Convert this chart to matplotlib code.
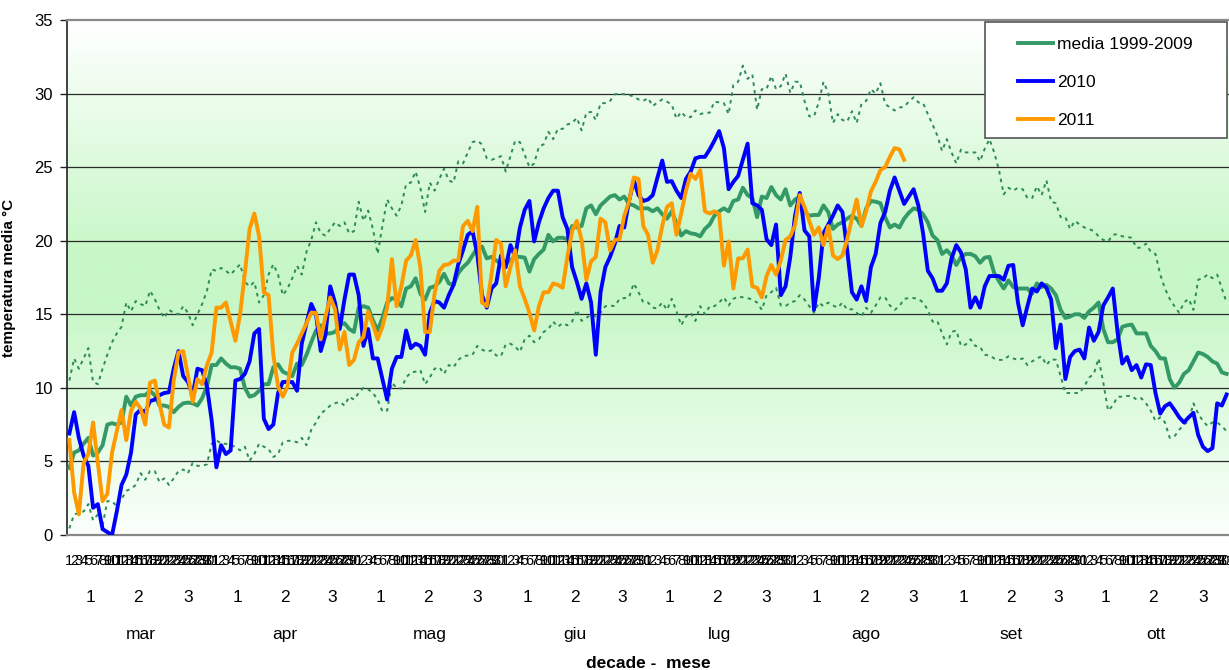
import numpy as np
import matplotlib
matplotlib.use("Agg")
import matplotlib.pyplot as plt
from matplotlib.colors import LinearSegmentedColormap
from matplotlib.patches import Rectangle

plt.rcParams['font.family'] = ['Liberation Sans', 'DejaVu Sans']

# months shown on the axis and their number of days
months = ['mar', 'apr', 'mag', 'giu', 'lug', 'ago', 'set', 'ott']
month_days = [31, 30, 31, 30, 31, 31, 30, 31]

# daily mean temperature 1999-2009
media = [4.55, 5.6, 5.75, 6.2, 6.6, 5.4, 5.6, 6.1, 7.5, 7.6, 7.5, 7.65, 9.4, 8.8, 9.4, 9.5, 9.5, 9.8, 9.5, 8.8,
         8.8, 8.7, 8.35, 8.7, 8.95, 9.0, 8.95, 8.8, 9.3, 10.1, 11.55, 11.55, 12.0, 11.65, 11.4, 11.4, 11.3, 10.0, 9.4, 9.5,
         9.8, 10.25, 10.25, 11.4, 11.6, 11.1, 10.95, 10.8, 11.65, 11.55, 12.25, 13.1, 13.9, 14.25, 13.7, 13.7, 13.8, 14.25, 14.4, 14.0,
         13.8, 15.45, 15.55, 15.45, 14.6, 13.9, 14.75, 15.8, 16.1, 16.0, 15.55, 16.75, 16.9, 17.45, 16.4, 16.0, 16.8, 16.9, 17.2, 17.75,
         17.1, 17.0, 17.8, 18.2, 18.5, 19.0, 19.5, 19.6, 18.8, 18.9, 18.65, 18.45, 18.4, 18.7, 18.9, 18.9, 18.85, 17.9, 18.75, 19.1,
         19.4, 20.4, 19.95, 20.2, 20.2, 20.1, 21.0, 20.9, 21.0, 22.2, 22.4, 21.8, 22.4, 22.7, 23.0, 23.1, 22.8, 23.0, 22.5, 22.4,
         22.2, 22.2, 22.2, 22.0, 22.2, 21.8, 21.5, 22.0, 21.2, 20.35, 20.65, 20.5, 20.45, 20.3, 20.8, 21.1, 21.7, 22.0, 22.2, 22.0,
         22.7, 22.8, 23.6, 23.1, 22.9, 21.6, 23.0, 22.9, 23.65, 23.1, 22.8, 23.5, 22.4, 22.8, 23.0, 21.95, 21.7, 21.75, 21.75, 22.4,
         21.95, 20.8, 21.1, 21.25, 21.5, 21.7, 21.5, 21.0, 22.2, 22.7, 22.65, 22.55, 21.6, 20.9, 21.1, 20.9, 21.5, 21.9, 22.2, 22.1,
         21.8, 21.25, 20.35, 20.05, 19.1, 19.35, 19.0, 18.35, 18.9, 19.1, 19.1, 18.95, 18.5, 18.85, 18.9, 17.8, 17.25, 16.75, 17.3, 16.85,
         16.75, 16.75, 16.75, 16.4, 17.1, 16.85, 17.0, 16.75, 16.3, 15.3, 14.75, 14.85, 15.0, 15.0, 14.75, 15.2, 15.45, 15.8, 14.0, 13.1,
         13.1, 13.3, 14.15, 14.25, 14.3, 13.7, 13.7, 13.7, 12.85, 12.5, 12.0, 12.0, 10.6, 10.0, 10.35, 10.95, 11.2, 11.8, 12.4, 12.3,
         12.1, 11.8, 11.65, 11.05, 10.95]

# daily mean temperature 2010
t2010 = [6.9, 8.35, 6.6, 5.4, 4.7, 1.85, 2.1, 0.4, 0.2, 0.0, 1.6, 3.4, 4.1, 5.6, 8.2, 8.5, 8.35, 9.1, 9.2, 9.5,
         9.65, 9.7, 11.3, 12.5, 10.8, 10.4, 9.5, 11.3, 11.2, 10.1, 7.8, 4.6, 6.1, 5.5, 5.75, 10.5, 10.6, 10.95, 11.8, 13.7,
         14.0, 7.9, 7.2, 7.5, 9.65, 10.4, 10.4, 10.4, 9.8, 13.0, 14.4, 15.7, 15.0, 12.5, 13.6, 16.9, 15.8, 14.0, 16.0, 17.7,
         17.7, 16.3, 12.85, 14.0, 12.0, 12.0, 10.6, 9.2, 11.3, 12.1, 12.1, 13.9, 12.7, 13.0, 12.85, 12.25, 15.1, 15.9, 15.8, 15.45,
         16.3, 17.0, 18.4, 19.35, 20.4, 20.65, 19.1, 16.3, 15.45, 16.75, 17.1, 19.0, 18.2, 19.7, 18.9, 20.9, 22.1, 22.7, 19.95, 21.25,
         22.2, 22.9, 23.4, 23.4, 21.6, 20.8, 18.2, 17.2, 16.05, 17.1, 15.8, 12.25, 16.5, 18.2, 18.9, 19.8, 21.0, 20.9, 22.7, 24.1,
         23.1, 22.7, 22.8, 23.1, 24.3, 25.45, 24.0, 24.05, 23.4, 22.9, 24.2, 24.7, 25.6, 25.7, 25.7, 26.2, 26.8, 27.45, 26.3, 23.5,
         24.0, 24.4, 25.5, 26.6, 22.55, 22.4, 22.1, 20.1, 19.7, 21.1, 16.3, 16.9, 18.9, 21.7, 23.25, 20.7, 20.3, 15.3, 17.45, 20.5,
         21.1, 21.7, 22.4, 21.95, 19.35, 16.5, 16.0, 16.9, 15.9, 18.2, 19.1, 21.2, 21.95, 23.4, 24.3, 23.4, 22.5, 23.0, 23.5, 22.4,
         20.5, 17.96, 17.45, 16.6, 16.6, 17.1, 18.8, 19.7, 19.2, 18.05, 15.45, 16.15, 15.45, 16.9, 17.6, 17.6, 17.6, 17.35, 18.3, 18.35,
         15.8, 14.25, 15.55, 16.75, 16.55, 17.1, 16.8, 16.0, 12.7, 14.3, 10.6, 12.1, 12.5, 12.6, 12.0, 14.1, 13.2, 13.8, 15.6, 16.15,
         16.75, 13.8, 11.65, 12.1, 11.2, 11.55, 10.7, 11.6, 11.55, 9.65, 8.25, 8.75, 8.95, 8.5, 8.0, 7.65, 8.0, 8.3, 6.8, 6.0,
         5.7, 5.9, 8.95, 8.8, 9.55]

# daily mean temperature 2011 (until late August)
t2011 = [6.45, 2.9, 1.4, 4.9, 5.5, 7.65, 4.9, 2.3, 2.8, 5.6, 7.05, 8.5, 6.45, 8.45, 9.05, 8.6, 7.5, 10.35, 10.5, 8.95,
         7.5, 7.3, 10.5, 12.4, 12.5, 10.85, 9.05, 10.6, 10.25, 11.55, 12.4, 15.45, 15.45, 15.8, 14.5, 13.2, 15.0, 17.8, 20.8, 21.85,
         20.3, 16.5, 16.3, 12.25, 10.1, 9.4, 10.1, 12.4, 13.0, 13.7, 14.4, 15.1, 15.1, 13.3, 14.85, 16.15, 15.35, 12.6, 13.8, 11.55,
         11.9, 13.1, 13.45, 15.2, 14.3, 13.3, 14.15, 15.45, 18.75, 15.55, 16.9, 18.65, 19.0, 20.05, 18.2, 13.8, 13.8, 16.4, 17.95, 18.35,
         18.4, 18.65, 18.65, 21.0, 21.35, 20.65, 22.3, 15.8, 15.55, 17.7, 20.05, 19.8, 16.9, 18.2, 19.35, 16.9, 16.05, 15.1, 13.9, 15.55,
         16.5, 16.5, 17.1, 17.0, 16.8, 18.9, 20.65, 21.35, 20.05, 17.35, 18.6, 18.9, 21.5, 21.25, 19.35, 20.05, 20.1, 21.7, 22.65, 24.3,
         24.2, 21.0, 20.4, 18.5, 19.35, 21.0, 22.3, 22.55, 20.4, 21.85, 23.4, 24.55, 24.2, 24.8, 22.0, 21.85, 22.0, 21.8, 18.3, 19.95,
         16.75, 18.8, 18.8, 19.4, 16.9, 16.8, 16.15, 17.6, 18.35, 17.7, 18.65, 20.05, 20.3, 21.05, 23.1, 22.3, 21.35, 20.4, 20.9, 19.7,
         21.0, 19.0, 18.75, 19.0, 20.1, 21.5, 22.8, 21.0, 22.0, 23.35, 24.0, 24.8, 25.0, 25.7, 26.3, 26.2, 25.5]

# daily maximum of the 1999-2009 means (upper dotted line)
upper = [10.5, 12.0, 11.3, 12.0, 12.7, 10.4, 10.25, 11.3, 12.25, 13.1, 13.7, 14.15, 15.8, 15.2, 15.9, 15.7, 15.55, 16.6, 16.05, 15.3,
         14.75, 15.3, 15.1, 15.0, 15.55, 15.1, 14.25, 15.0, 15.7, 16.6, 18.05, 17.95, 18.15, 17.95, 17.7, 18.05, 18.4, 17.2, 16.9, 17.2,
         15.8, 16.3, 17.7, 18.4, 17.7, 16.3, 16.75, 17.45, 18.3, 17.7, 19.25, 20.05, 21.25, 20.5, 20.35, 20.8, 21.25, 21.0, 21.25, 20.5,
         20.65, 22.65, 21.35, 22.05, 20.8, 19.1, 21.0, 22.8, 22.2, 21.7, 22.4, 23.85, 23.95, 24.7, 23.6, 21.95, 23.95, 23.4, 24.2, 24.9,
         24.1, 23.95, 25.4, 25.25, 26.0, 26.7, 26.8, 26.55, 25.6, 25.5, 25.6, 25.75, 24.7, 25.75, 26.8, 26.7, 25.85, 25.0, 25.25, 26.4,
         26.55, 27.4, 26.9, 27.6, 27.6, 27.9, 28.0, 28.35, 27.5, 28.7, 28.75, 28.2, 29.35, 29.35, 29.5, 29.95, 30.0, 29.95, 29.9, 29.8,
         29.6, 29.5, 29.7, 29.15, 29.4, 29.6, 29.45, 29.25, 28.3, 28.75, 28.4, 28.4, 28.85, 28.6, 28.7, 28.7, 29.45, 29.4, 29.35, 28.6,
         30.6, 30.8, 31.9, 31.0, 31.3, 28.9, 30.3, 30.3, 31.2, 30.3, 30.5, 31.35, 30.05, 30.8, 30.8, 29.5, 28.45, 28.45, 29.4, 30.8,
         30.05, 28.0, 28.6, 28.2, 28.1, 28.8, 28.0, 29.3, 29.5, 30.3, 30.0, 30.7, 29.3, 29.05, 28.85, 29.05, 29.1, 29.45, 29.75, 29.4,
         29.35, 28.6, 27.9, 27.15, 26.1, 26.9, 26.0, 25.25, 26.2, 26.0, 26.0, 26.0, 25.4, 26.25, 26.9, 26.0, 24.8, 23.15, 23.6, 23.4,
         23.6, 23.5, 22.9, 22.9, 23.7, 23.1, 24.1, 22.65, 22.55, 21.6, 21.6, 20.8, 21.35, 21.1, 20.9, 20.8, 20.65, 20.3, 20.05, 19.95,
         20.4, 20.45, 20.3, 20.25, 20.2, 19.5, 19.55, 19.8, 19.25, 19.1, 17.7, 16.75, 16.05, 15.55, 15.1, 15.8, 16.05, 15.3, 17.35, 17.45,
         17.7, 17.45, 17.7, 16.75, 15.8]

# daily minimum of the 1999-2009 means (lower dotted line)
lower = [0.45, 1.4, 1.5, 1.6, 2.1, 1.0, 1.4, 0.65, 2.3, 2.3, 1.95, 2.45, 3.0, 3.15, 3.4, 4.2, 3.75, 4.35, 4.35, 3.6,
         3.85, 3.4, 3.85, 4.35, 4.45, 4.2, 4.9, 4.7, 4.7, 4.8, 6.2, 6.45, 6.2, 6.2, 6.1, 6.0, 5.75, 6.0, 5.05, 5.5,
         6.2, 6.0, 5.85, 5.3, 5.5, 6.3, 6.4, 6.4, 6.3, 6.6, 6.1, 7.15, 7.65, 8.25, 8.5, 8.8, 8.95, 9.05, 8.8, 9.4,
         9.2, 9.65, 10.0, 9.9, 9.65, 9.2, 8.4, 8.45, 10.35, 10.0, 9.95, 10.7, 11.05, 11.1, 11.2, 10.25, 10.7, 11.3, 11.4, 10.95,
         11.55, 11.4, 11.9, 12.15, 12.2, 12.25, 12.85, 12.6, 12.45, 12.55, 12.2, 12.15, 12.95, 13.0, 12.8, 12.45, 13.3, 13.55, 13.1, 13.3,
         13.8, 14.0, 14.5, 14.15, 14.4, 14.25, 14.5, 15.3, 14.55, 14.75, 15.0, 14.85, 15.1, 15.55, 15.6, 15.55, 16.05, 16.1, 16.15, 17.1,
         16.5, 15.8, 15.8, 15.45, 15.4, 15.8, 15.3, 16.05, 15.2, 14.25, 14.85, 15.1, 14.55, 15.55, 15.0, 15.55, 15.55, 15.8, 16.15, 15.6,
         16.05, 16.2, 16.15, 16.1, 16.0, 15.8, 15.3, 16.3, 16.5, 16.8, 15.6, 15.55, 15.8, 15.9, 16.3, 16.0, 15.55, 15.1, 15.8, 15.55,
         15.8, 15.6, 15.45, 15.8, 15.3, 15.35, 15.1, 14.85, 15.45, 15.1, 15.6, 16.15, 16.15, 15.6, 15.3, 15.55, 16.05, 16.1, 16.1, 16.05,
         15.8, 15.3, 14.5, 14.55, 13.7, 12.95, 13.8, 13.9, 12.85, 12.95, 13.3, 12.85, 12.8, 12.25, 12.2, 12.0, 11.9, 11.9, 12.15, 12.0,
         11.9, 12.0, 11.55, 11.8, 12.0, 12.15, 11.55, 11.95, 11.9, 10.8, 9.65, 9.65, 9.65, 9.65, 10.1, 10.7, 10.95, 12.0, 10.35, 8.45,
         8.8, 9.4, 9.4, 9.45, 9.45, 9.2, 9.3, 8.95, 8.45, 7.75, 8.0, 7.65, 6.6, 6.7, 7.15, 7.5, 7.75, 8.95, 8.25, 7.75,
         7.4, 7.65, 7.65, 7.4, 7.05]

n_days = sum(month_days)
x = np.arange(n_days)

fig = plt.figure(figsize=(12.29, 6.70), dpi=100)
ax = fig.add_axes([67 / 1229, 135 / 670, 1162 / 1229, 515 / 670])

# background: white -> light green -> white gradient
grad_cmap = LinearSegmentedColormap.from_list(
    'bg', [(0.0, '#fbfffb'), (0.45, '#c7f7c7'), (0.55, '#c7f7c7'), (1.0, '#ffffff')])
grad = np.linspace(0, 1, 256).reshape(-1, 1)
ax.imshow(grad, cmap=grad_cmap, aspect='auto', origin='lower',
          extent=[-0.5, n_days - 0.5, 0, 35], zorder=0)

for yv in range(5, 35, 5):
    ax.axhline(yv, color='#2a2a2a', lw=0.9, zorder=1)

dot_green = '#2e8b57'
ax.plot(x, upper, color=dot_green, lw=1.4, ls=(0, (1.8, 2.2)), zorder=2)
ax.plot(x, lower, color=dot_green, lw=1.4, ls=(0, (1.8, 2.2)), zorder=2)
ax.plot(x, media, color='#339966', lw=2.8, zorder=3, label='media 1999-2009')
ax.plot(x, t2010, color='#0000ff', lw=2.8, zorder=3, label='2010')
ax.plot(np.arange(len(t2011)), t2011, color='#ff9900', lw=2.8, zorder=3, label='2011')

ax.set_xlim(-0.5, n_days - 0.5)
ax.set_ylim(0, 35)
ax.set_yticks(range(0, 36, 5))
ax.tick_params(axis='y', direction='out', length=5, width=1, pad=5, labelsize=12, color='#222222')
ax.set_xticks([])

ax.spines['right'].set_visible(False)
ax.spines['left'].set_color('#222222')
ax.spines['left'].set_linewidth(1.2)
ax.spines['top'].set_color('#888888')
ax.spines['top'].set_linewidth(1.6)
ax.spines['bottom'].set_color('#888888')
ax.spines['bottom'].set_linewidth(1.6)

ax.set_ylabel('temperatura media °C', fontsize=11, fontweight='bold')
ax.yaxis.set_label_coords(-0.044, 0.5)

# three level category axis: day, decade, month
tr = ax.get_xaxis_transform()
start = 0
for m, nd in zip(months, month_days):
    for d in range(1, nd + 1):
        ax.text(start + d - 1, -0.05, str(d), transform=tr, ha='center', va='center',
                fontsize=10.5, clip_on=False)
    dec_bounds = [(0, 10), (10, 20), (20, nd)]
    for k, (a, b) in enumerate(dec_bounds):
        ax.text(start + (a + b - 1) / 2, -0.122, str(k + 1), transform=tr, ha='center',
                va='center', fontsize=12.5, clip_on=False)
    ax.text(start + (nd - 1) / 2, -0.194, m, transform=tr, ha='center', va='center',
            fontsize=12.5, clip_on=False)
    start += nd

ax.text(0.5, -0.249, 'decade -  mese', transform=ax.transAxes, ha='center', va='center',
        fontsize=12.5, fontweight='bold')

# legend with a fixed-size box like the original
ax.add_patch(Rectangle((0.79, 0.771), 0.208, 0.225, transform=ax.transAxes,
                       facecolor='white', edgecolor='#555555', lw=1.2, zorder=4, clip_on=False))
leg = ax.legend(loc='upper left', bbox_to_anchor=(0.805, 0.997), frameon=False,
                fontsize=12.5, handlelength=2.0, handletextpad=0.25, labelspacing=1.3)
leg.set_zorder(5)

fig.savefig('out.png', dpi=100)
